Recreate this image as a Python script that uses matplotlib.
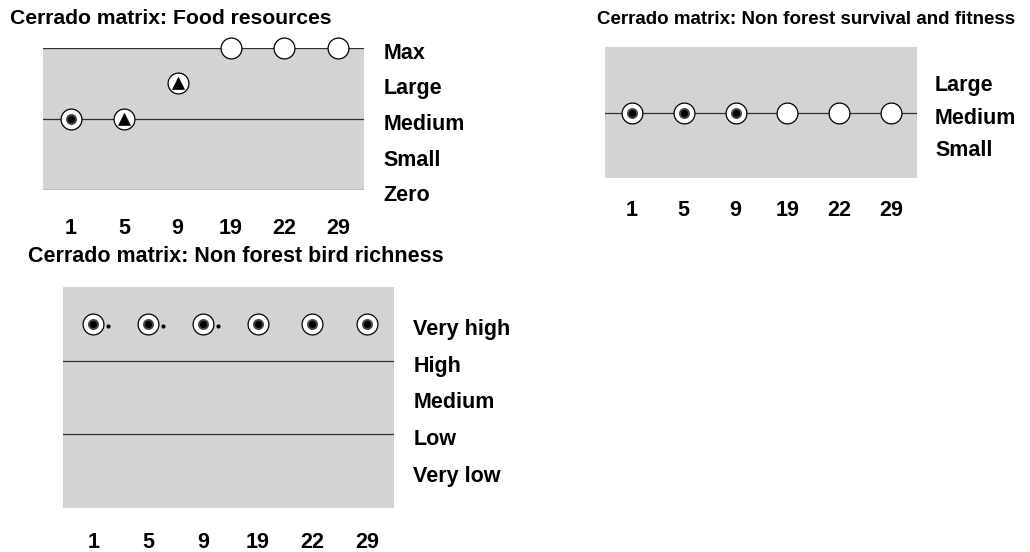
import numpy as np
import matplotlib
matplotlib.use("Agg")
import matplotlib.pyplot as plt
import matplotlib.transforms as mtransforms

plt.rcParams.update({
    "font.family": ["Liberation Sans", "DejaVu Sans"],
    "font.weight": "bold",
    "font.size": 15.5,
})

# ── Data ────────────────────────────────────────────────────────────────────
years = ["1", "5", "9", "19", "22", "29"]

food_scale = ["Zero", "Small", "Medium", "Large", "Max"]
food_levels = [2, 2, 3, 4, 4, 4]
food_marks = ["dot", "tri", "tri", "open", "open", "open"]
food_lines = [0, 2, 4]

surv_scale = ["Small", "Medium", "Large"]          # levels 1..3
surv_levels = [2, 2, 2, 2, 2, 2]
surv_marks = ["dot", "dot", "dot", "open", "open", "open"]
surv_lines = [2]

bird_scale = ["Very low", "Low", "Medium", "High", "Very high"]   # levels 1..5
bird_levels = [5, 5, 5, 5, 5, 5]
bird_marks = ["dot"] * 6
bird_tail = [True, True, True, False, False, False]
bird_lines = [2, 4]

# ── Style ───────────────────────────────────────────────────────────────────
W, H = 1030, 552
BG = "#d3d3d3"
LINE = "#303030"

fig = plt.figure(figsize=(W / 100, H / 100), dpi=100)


def px_axes(x0, y0, x1, y1):
    return fig.add_axes([x0 / W, 1 - y1 / H, (x1 - x0) / W, (y1 - y0) / H])


def draw_marker(ax, x, y, kind):
    ax.plot(x, y, marker="o", ms=15, mfc="white", mec="black", mew=0.9,
            ls="none", clip_on=False, zorder=3)
    if kind == "dot":
        ax.plot(x, y, marker="o", ms=6.5, mfc="black", mec="#454545", mew=1.4,
                ls="none", clip_on=False, zorder=4)
    elif kind == "tri":
        ax.plot(x, y, marker="^", ms=9, mfc="black", mec="black", mew=0.5,
                ls="none", clip_on=False, zorder=4)


def setup(ax, scale, first_level, ylim, xlim, lines, xpad, ypad):
    ax.set_facecolor(BG)
    for s in ax.spines.values():
        s.set_visible(False)
    ax.set_xlim(*xlim)
    ax.set_ylim(*ylim)
    for lv in lines:
        ax.axhline(lv, color=LINE, lw=0.9, zorder=2)
    ax.yaxis.tick_right()
    ax.set_yticks(np.arange(first_level, first_level + len(scale)))
    ax.set_yticklabels(scale)
    ax.set_xticks(np.arange(len(years)))
    ax.set_xticklabels(years)
    ax.tick_params(axis="y", length=0, pad=ypad)
    ax.tick_params(axis="x", length=0, pad=xpad)
    shift = mtransforms.ScaledTranslation(0, -3 / 100, fig.dpi_scale_trans)
    for lab in ax.get_yticklabels():
        lab.set_transform(lab.get_transform() + shift)


# ── Panel 1: food resources ────────────────────────────────────────────────
ax1 = px_axes(43, 48, 364, 190)
setup(ax1, food_scale, 0, (0, 4), (-0.52, 5.49), food_lines, 20.5, 14)
for i, (lv, mk) in enumerate(zip(food_levels, food_marks)):
    draw_marker(ax1, i, lv, mk)
fig.text(10 / W, 1 - 19 / H, "Cerrado matrix: Food resources",
         ha="left", va="center", fontsize=15.2)

# ── Panel 2: non forest survival and fitness ──────────────────────────────
ax2 = px_axes(605, 47, 917, 178)
setup(ax2, surv_scale, 1, (0, 4), (-0.52, 5.5), surv_lines, 15.5, 13)
for i, (lv, mk) in enumerate(zip(surv_levels, surv_marks)):
    draw_marker(ax2, i, lv, mk)
fig.text(597 / W, 1 - 20 / H, "Cerrado matrix: Non forest survival and fitness",
         ha="left", va="center", fontsize=13.5)

# ── Panel 3: non forest bird richness ─────────────────────────────────────
ax3 = px_axes(63, 287, 394, 508)
setup(ax3, bird_scale, 1, (0, 6), (-0.55, 5.49), bird_lines, 17, 14)
for i, (lv, mk, tail) in enumerate(zip(bird_levels, bird_marks, bird_tail)):
    draw_marker(ax3, i, lv, mk)
    if tail:
        ax3.plot(i + 0.27, lv - 0.07, marker="o", ms=2, color="black",
                 ls="none", zorder=4)
fig.text(28 / W, 1 - 257 / H, "Cerrado matrix: Non forest bird richness",
         ha="left", va="center")

fig.savefig("out.png", dpi=100)
